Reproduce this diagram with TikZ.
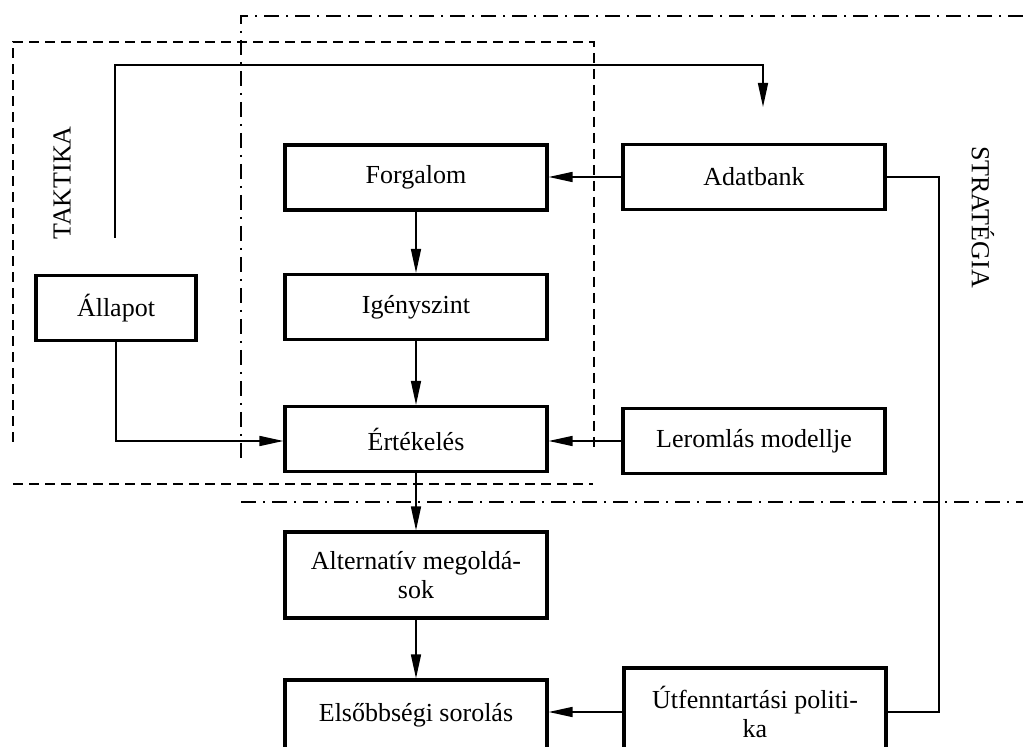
\documentclass[tikz,border=0pt]{standalone}
\usepackage{fontspec}
\setmainfont{Liberation Serif}
\usetikzlibrary{arrows.meta}
\begin{document}
\begin{tikzpicture}[x=0.5pt,y=-0.5pt,
  font=\fontsize{13}{14.5}\selectfont,
  blk/.style={draw,line width=1.6pt,rectangle,minimum width=131pt,minimum height=32.5pt,inner sep=0pt,align=center},
  conn/.style={line width=0.8pt},
  arr/.style={conn,-{Triangle[length=12pt,width=5pt]}},
  taktframe/.style={line width=1pt,dash pattern=on 5pt off 3pt},
  stratframe/.style={line width=1pt,dash pattern=on 7.5pt off 3.5pt on 1pt off 3.5pt}]
\useasboundingbox (0,0) rectangle (1023,747);
\clip (0,0) rectangle (1023,747);

% blocks
\node[blk] (forg) at (416,177.5) {Forgalom};
\node[blk] (adat) at (754,177) {Adatbank};
\node[blk,minimum width=80pt] (allap) at (116,308) {Állapot};
\node[blk] (igeny) at (416,307) {Igényszint};
\node[blk] (ertek) at (416,439) {Értékelés};
\node[blk] (lerom) at (754,441) {Leromlás modellje};
\node[blk,minimum height=43pt] (alter) at (416,575) {Alternatív megoldá-\\sok};
\node[blk,minimum height=35pt] (elso) at (416,715) {Elsőbbségi sorolás};
\node[blk,minimum height=44pt] (utf) at (755,712) {Útfenntartási politi-\\ka};

% frame labels
\node[rotate=90] (takt) at (62,183) {TAKTIKA};
\node[rotate=-90] (strat) at (983,217) {STRATÉGIA};

% tactics frame (dashed)
\draw[taktframe] (13,442) -- (13,42) -- (594,42) -- (594,447);
\draw[taktframe] (13,484) -- (593,484);

% strategy frame (dash-dot)
\draw[stratframe] (1023,16) -- (241,16) -- (241,461);
\draw[stratframe] (241,502) -- (1023,502);

% main flow
\draw[arr] (forg) -- (igeny);
\draw[arr] (igeny) -- (ertek);
\draw[arr] (ertek) -- (alter);
\draw[arr] (alter) -- (elso);
\draw[arr] (adat.west) -- (forg.east |- adat.west);
\draw[arr] (lerom.west) -- (ertek.east |- lerom.west);
\draw[arr] (allap.south) |- (ertek.west |- lerom.west);

% policy rail on the right
\coordinate (rail) at (939,0);
\draw[conn] (adat.east) -- (adat.east -| rail) -- (utf.east -| rail) -- (utf.east);
\draw[arr] (utf.west) -- (elso.east |- utf.west);

% feedback from the state to the data bank
\coordinate (fbA) at (115,238);
\coordinate (fbB) at (763,107);
\draw[arr] (fbA) -- (fbA |- 0,65) -- (fbB |- 0,65) -- (fbB);
\end{tikzpicture}
\end{document}
